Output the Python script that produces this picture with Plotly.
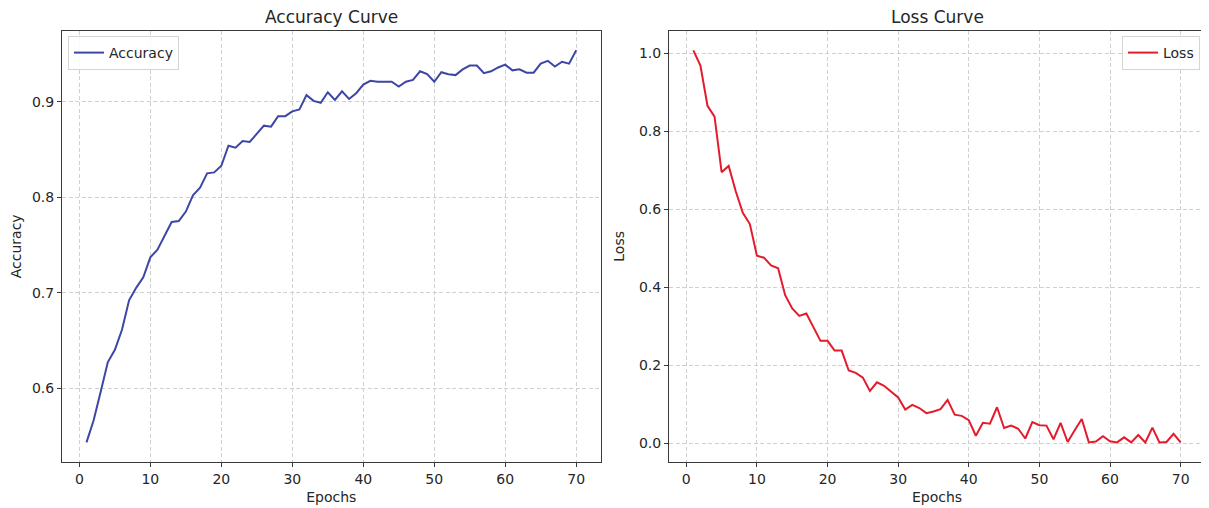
import plotly.graph_objects as go

epochs = list(range(1, 71))

accuracy = [0.543, 0.566, 0.596, 0.627, 0.640, 0.661, 0.692, 0.705, 0.716, 0.737,
            0.745, 0.759, 0.774, 0.775, 0.785, 0.802, 0.810, 0.825, 0.826, 0.833,
            0.854, 0.852, 0.859, 0.858, 0.867, 0.875, 0.874, 0.885, 0.885, 0.890,
            0.892, 0.907, 0.901, 0.899, 0.910, 0.902, 0.911, 0.903, 0.909, 0.918,
            0.922, 0.921, 0.921, 0.921, 0.916, 0.921, 0.923, 0.932, 0.929, 0.921,
            0.931, 0.929, 0.928, 0.934, 0.938, 0.938, 0.930, 0.932, 0.936, 0.939,
            0.933, 0.934, 0.9305, 0.9305, 0.940, 0.943, 0.937, 0.942, 0.940, 0.954]

loss = [1.007, 0.968, 0.865, 0.837, 0.695, 0.711, 0.646, 0.591, 0.562, 0.481,
        0.476, 0.456, 0.449, 0.380, 0.346, 0.327, 0.333, 0.299, 0.263, 0.263,
        0.238, 0.238, 0.187, 0.181, 0.169, 0.135, 0.157, 0.148, 0.134, 0.118,
        0.087, 0.099, 0.091, 0.078, 0.082, 0.088, 0.112, 0.074, 0.071, 0.060,
        0.020, 0.053, 0.051, 0.093, 0.040, 0.046, 0.038, 0.013, 0.055, 0.047,
        0.046, 0.011, 0.053, 0.004, 0.034, 0.063, 0.003, 0.005, 0.019, 0.006,
        0.003, 0.016, 0.003, 0.022, 0.003, 0.041, 0.003, 0.004, 0.025, 0.003]

acc_ticks = [0.6, 0.7, 0.8, 0.9]
loss_ticks = [0.0, 0.2, 0.4, 0.6, 0.8, 1.0]
epoch_ticks = [0, 10, 20, 30, 40, 50, 60, 70]

W, H = 1209, 508
OFF = 8  # the page body adds an 8px margin at top-left
FONT = "DejaVu Sans"
TXT = "#262626"
SPINE = "#3a3a3a"
GRID = "#d0d0d0"
GDASH = "4px,2.5px"


def pad(vals, frac=0.05):
    lo, hi = min(vals), max(vals)
    d = (hi - lo) * frac
    return [lo - d, hi + d]


def px(x):
    return (x - OFF) / W


def py(y):
    return 1 - (y - OFF) / H


xr = pad(epochs)

fig = go.Figure()
fig.add_trace(go.Scatter(x=epochs, y=accuracy, mode="lines", name="Accuracy",
                         line=dict(color="#3d46a6", width=2), showlegend=True,
                         xaxis="x", yaxis="y", legend="legend"))
fig.add_trace(go.Scatter(x=epochs, y=loss, mode="lines", name="Loss",
                         line=dict(color="#e31c2d", width=2), showlegend=True,
                         xaxis="x2", yaxis="y2", legend="legend2"))

ydom = [py(462), py(30.7)]
xdom1 = [px(62), px(600.7)]
xdom2 = [px(669), px(1205)]

common_x = dict(range=xr, tickvals=epoch_ticks, showgrid=True, gridcolor=GRID,
                griddash=GDASH, gridwidth=1, showline=True, linecolor=SPINE,
                linewidth=1, mirror=True, ticks="outside", ticklen=4,
                tickcolor=SPINE, zeroline=False, automargin=False,
                tickfont=dict(family=FONT, size=14, color=TXT))
common_y = dict(showgrid=True, gridcolor=GRID, griddash=GDASH, gridwidth=1,
                showline=True, linecolor=SPINE, linewidth=1, mirror=True,
                ticks="outside", ticklen=4, tickcolor=SPINE, zeroline=False,
                tickformat=".1f", domain=ydom, automargin=False,
                tickfont=dict(family=FONT, size=14, color=TXT))

leg_common = dict(bgcolor="rgba(255,255,255,0.85)", bordercolor="#d5d5d5",
                  borderwidth=1, itemwidth=30, yanchor="top",
                  font=dict(family=FONT, size=14, color=TXT))

fig.update_layout(
    width=W, height=H, autosize=False, showlegend=True,
    margin=dict(l=0, r=0, t=0, b=0, pad=0),
    paper_bgcolor="white", plot_bgcolor="white",
    font=dict(family=FONT, size=14, color=TXT),
    xaxis=dict(common_x, domain=xdom1, anchor="y",
               title=dict(text="Epochs", standoff=6,
                          font=dict(family=FONT, size=14, color=TXT))),
    yaxis=dict(common_y, range=pad(accuracy), tickvals=acc_ticks, anchor="x",
               title=dict(text="Accuracy", standoff=11,
                          font=dict(family=FONT, size=14, color=TXT))),
    xaxis2=dict(common_x, domain=xdom2, anchor="y2",
                title=dict(text="Epochs", standoff=6,
                           font=dict(family=FONT, size=14, color=TXT))),
    yaxis2=dict(common_y, range=pad(loss), tickvals=loss_ticks, anchor="x2",
                title=dict(text="Loss", standoff=11,
                           font=dict(family=FONT, size=14, color=TXT))),
    legend=dict(leg_common, x=px(68), y=py(36), xanchor="left"),
    legend2=dict(leg_common, x=px(1200), y=py(36), xanchor="right"),
    annotations=[
        dict(text="Accuracy Curve", xref="paper", yref="paper",
             x=(xdom1[0] + xdom1[1]) / 2, y=ydom[1], xanchor="center",
             yanchor="bottom", yshift=2, showarrow=False,
             font=dict(family=FONT, size=17, color=TXT)),
        dict(text="Loss Curve", xref="paper", yref="paper",
             x=(xdom2[0] + xdom2[1]) / 2, y=ydom[1], xanchor="center",
             yanchor="bottom", yshift=2, showarrow=False,
             font=dict(family=FONT, size=17, color=TXT)),
    ],
)

fig.write_html("out.html")
